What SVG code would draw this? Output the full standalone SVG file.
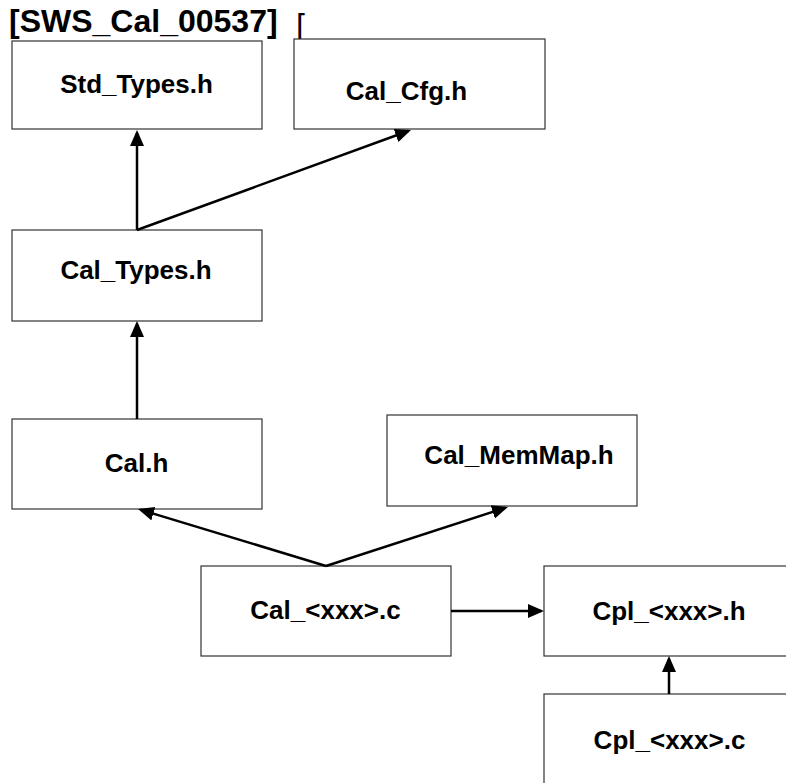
<svg xmlns="http://www.w3.org/2000/svg" width="786" height="783" viewBox="0 0 786 783">
<defs>
<style>
.box{fill:#fff;stroke:#333;stroke-width:1.2}
.lbl{font-family:"Liberation Sans",Arial,sans-serif;font-weight:bold;font-size:26px;fill:#000;text-anchor:middle}
.ttl{font-family:"Liberation Sans",Arial,sans-serif;font-weight:bold;font-size:32px;fill:#000}
.con{fill:none;stroke:#000;stroke-width:2.5;marker-end:url(#ah)}
</style>
<marker id="ah" markerUnits="userSpaceOnUse" markerWidth="17" markerHeight="15" refX="13" refY="7" orient="auto">
<path d="M0,0 L16,7 L0,14 z" fill="#000"/>
</marker>
</defs>
<rect width="786" height="783" fill="#fff"/>
<g id="title">
<text class="ttl" x="9" y="32">[SWS_Cal_00537]</text>
<text x="296" y="36" style="font-family:'DejaVu Sans',sans-serif;font-size:30px;fill:#000">⌈</text>
</g>
<g id="std_types"><rect class="box" x="12" y="41" width="250" height="88"/><text class="lbl" x="136.5" y="93">Std_Types.h</text></g>
<g id="cal_cfg"><rect class="box" x="294" y="39" width="251" height="90"/><text class="lbl" x="406.5" y="100">Cal_Cfg.h</text></g>
<g id="cal_types"><rect class="box" x="12" y="230" width="250" height="91"/><text class="lbl" x="136" y="279">Cal_Types.h</text></g>
<g id="cal_h"><rect class="box" x="12" y="419" width="250" height="90"/><text class="lbl" x="136.5" y="472">Cal.h</text></g>
<g id="cal_memmap"><rect class="box" x="387" y="415" width="250" height="91"/><text class="lbl" x="519" y="464">Cal_MemMap.h</text></g>
<g id="cal_xxx_c"><rect class="box" x="201" y="566" width="250" height="90"/><text class="lbl" x="325.5" y="619">Cal_&lt;xxx&gt;.c</text></g>
<g id="cpl_xxx_h"><rect class="box" x="544" y="566" width="250" height="90"/><text class="lbl" x="669" y="620">Cpl_&lt;xxx&gt;.h</text></g>
<g id="cpl_xxx_c"><rect class="box" x="544" y="694" width="250" height="90"/><text class="lbl" x="669.5" y="749">Cpl_&lt;xxx&gt;.c</text></g>
<g id="connectors">
<path class="con" d="M137,230 L137,133"/>
<path class="con" d="M137,230 L408.2,131"/>
<path class="con" d="M137,419 L137,324"/>
<path class="con" d="M326,566 L140.9,509.9"/>
<path class="con" d="M326,566 L505.1,507.9"/>
<path class="con" d="M451,611 L541,611"/>
<path class="con" d="M669,694 L669,659"/>
</g>
</svg>
